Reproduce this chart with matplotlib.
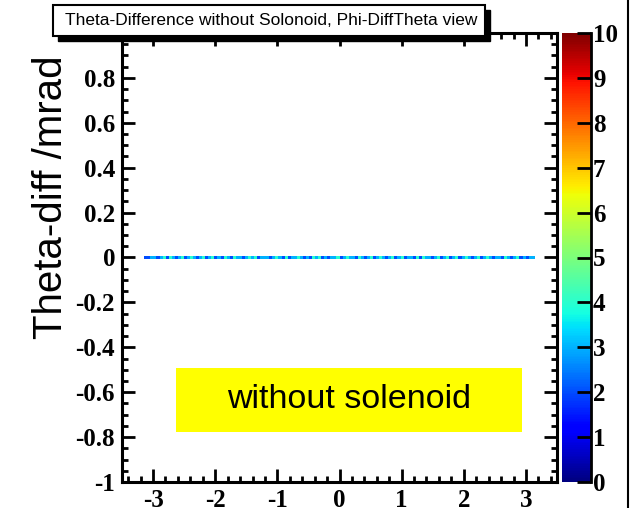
import numpy as np
import matplotlib
matplotlib.use('Agg')
import matplotlib.pyplot as plt
from matplotlib.patches import Rectangle
from matplotlib.lines import Line2D
from matplotlib.ticker import MultipleLocator, FuncFormatter

plt.rcParams['font.family'] = 'Liberation Serif'
plt.rcParams['font.weight'] = 'bold'
plt.rcParams['axes.unicode_minus'] = False

# entries per phi bin, all sitting in the theta-diff bin around 0
counts = [2,2,3,3,2,3,4,2,4,3,2,3,4,2,3,4,3,2,3,4,
          2,3,4,2,3,2,4,3,2,4,3,3,2,3,4,3,4,2,3,3,
          3,2,3,4,3,2,4,2,3,3,4,3,2,3,2,4,3,4,2,3,
          2,3,3,4,2,3,4,3,3,2,4,3,2,3,4,2,3,4,3,2,
          3,4,2,3,4,2,3,3,2,4,2,4,3,3,2,3,4,2,3,4,
          2,3,4,2,3,4,3,2,3,4,2,3,4,3,2,3,3,2,4,3,
          2,3,4,2,3,2,3,3]
phi_lo, phi_hi = -np.pi, np.pi
n_theta_bins = 201
theta_lo, theta_hi = -1.0, 1.0

title = 'Theta-Difference without Solonoid, Phi-DiffTheta view'
ytitle = 'Theta-diff /mrad'
note = 'without solenoid'

W, H = 635, 508
fig = plt.figure(figsize=(W/100, H/100), dpi=100)
ax = fig.add_axes([122/W, 1-482/H, 435/W, 449/H])
cax = fig.add_axes([562/W, 1-482/H, 29/W, 449/H])

phi_edges = np.linspace(phi_lo, phi_hi, len(counts)+1)
theta_edges = np.linspace(theta_lo, theta_hi, n_theta_bins+1)
z = np.zeros((n_theta_bins, len(counts)))
z[n_theta_bins//2] = counts
z = np.ma.masked_equal(z, 0)

mesh = ax.pcolormesh(phi_edges, theta_edges, z, cmap='jet', vmin=0, vmax=10)
ax.set_xlim(-3.5, 3.5)
ax.set_ylim(-1, 1)

fmt = FuncFormatter(lambda v, p: '%g' % round(v, 6))
ax.xaxis.set_major_locator(MultipleLocator(1))
ax.xaxis.set_minor_locator(MultipleLocator(0.2))
ax.yaxis.set_major_locator(MultipleLocator(0.2))
ax.yaxis.set_minor_locator(MultipleLocator(0.05))
ax.xaxis.set_major_formatter(fmt)
ax.yaxis.set_major_formatter(fmt)
ax.tick_params(which='both', direction='in', top=True, right=True, width=2, labelsize=18)
ax.tick_params(which='major', length=9.5)
ax.tick_params(which='minor', length=4.5)
ax.tick_params(axis='y', pad=5)
ax.tick_params(axis='x', pad=5)
for s in ax.spines.values():
    s.set_linewidth(2.2)

cb = fig.colorbar(mesh, cax=cax)
cb.set_ticks(range(0, 11))
cb.ax.yaxis.set_major_formatter(fmt)
cb.ax.tick_params(direction='in', length=10, width=2, labelsize=18, pad=1.5)
cb.ax.minorticks_off()
cb.outline.set_visible(False)
cax.add_line(Line2D([1, 1], [0, 1], transform=cax.transAxes, color='black', lw=2, clip_on=False))

# title pave with shadow
fig.add_artist(Rectangle((58/W, 1-41/H), 432/W, 31/H, transform=fig.transFigure,
                         facecolor='black', edgecolor='black', zorder=10))
fig.add_artist(Rectangle((53/W, 1-36/H), 432/W, 31/H, transform=fig.transFigure,
                         facecolor='white', edgecolor='black', lw=1.5, zorder=11))
fig.text(65/W, 1-20.5/H, title, fontsize=12.5, family='Liberation Sans', weight='normal',
         va='center', ha='left', zorder=12)

fig.text(51/W, 1-55/H, ytitle, rotation=90, fontsize=29, family='Liberation Sans',
         weight='normal', ha='center', va='top')

fig.add_artist(Rectangle((176/W, 1-432/H), 346/W, 64/H, transform=fig.transFigure,
                         facecolor='#ffff00', edgecolor='none', zorder=5))
fig.text(349/W, 1-400/H, note, fontsize=24.5, family='Liberation Sans', weight='normal',
         ha='center', va='center', zorder=6)

fig.add_artist(Line2D([628/W, 628/W], [0, 1], transform=fig.transFigure, color='black', lw=1.5))

plt.savefig('out.png', dpi=100)
